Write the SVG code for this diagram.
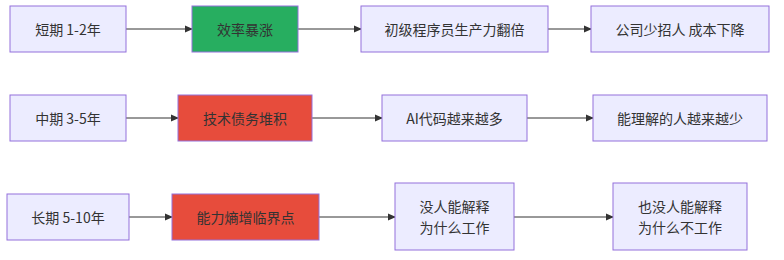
<svg xmlns="http://www.w3.org/2000/svg" width="784" height="260" viewBox="0 0 784 260">
<defs>
<marker id="arr" markerWidth="8" markerHeight="8" refX="7" refY="4" orient="auto" markerUnits="userSpaceOnUse">
<path d="M0,0.5 L8,4 L0,7.5 z" fill="#333333"/>
</marker>
<style>
.n{fill:#ECECFF;stroke:#9370DB;stroke-width:1}
.g{fill:#27AE60;stroke:#9370DB;stroke-width:1}
.r{fill:#E74C3C;stroke:#9370DB;stroke-width:1}
.t{font-family:"Noto Sans CJK SC","Liberation Sans",sans-serif;font-size:14px;fill:#333333;text-anchor:middle;dominant-baseline:central}
.e{stroke:#333333;stroke-width:1;fill:none;marker-end:url(#arr)}
</style>
</defs>
<rect width="784" height="260" fill="#ffffff"/>
<g id="connectors">
<line class="e" x1="126" y1="29" x2="192" y2="29"/>
<line class="e" x1="298" y1="29" x2="361" y2="29"/>
<line class="e" x1="548" y1="29" x2="591" y2="29"/>
<line class="e" x1="126" y1="118" x2="178" y2="118"/>
<line class="e" x1="312" y1="118" x2="382" y2="118"/>
<line class="e" x1="527" y1="118" x2="593" y2="118"/>
<line class="e" x1="129" y1="217" x2="172" y2="217"/>
<line class="e" x1="319" y1="217" x2="395" y2="217"/>
<line class="e" x1="514" y1="217" x2="613" y2="217"/>
</g>
<g id="s1"><rect class="n" x="10" y="6" width="116" height="46"/><text class="t" x="68" y="29">短期 1-2年</text></g>
<g id="s2"><rect class="g" x="192" y="6" width="106" height="46"/><text class="t" x="245" y="29">效率暴涨</text></g>
<g id="s3"><rect class="n" x="361" y="6" width="187" height="46"/><text class="t" x="454.5" y="29">初级程序员生产力翻倍</text></g>
<g id="s4"><rect class="n" x="591" y="6" width="178" height="46"/><text class="t" x="680" y="29">公司少招人 成本下降</text></g>
<g id="m1"><rect class="n" x="10" y="95" width="116" height="46"/><text class="t" x="68" y="118">中期 3-5年</text></g>
<g id="m2"><rect class="r" x="178" y="95" width="134" height="46"/><text class="t" x="245" y="118">技术债务堆积</text></g>
<g id="m3"><rect class="n" x="382" y="95" width="145" height="46"/><text class="t" x="454.5" y="118">AI代码越来越多</text></g>
<g id="m4"><rect class="n" x="593" y="95" width="174" height="46"/><text class="t" x="680" y="118">能理解的人越来越少</text></g>
<g id="l1"><rect class="n" x="7" y="194" width="122" height="46"/><text class="t" x="68" y="217">长期 5-10年</text></g>
<g id="l2"><rect class="r" x="172" y="194" width="147" height="46"/><text class="t" x="245.5" y="217">能力熵增临界点</text></g>
<g id="l3"><rect class="n" x="395" y="183" width="119" height="67"/><text class="t" x="454.5" y="206">没人能解释</text><text class="t" x="454.5" y="227">为什么工作</text></g>
<g id="l4"><rect class="n" x="613" y="183" width="134" height="67"/><text class="t" x="680" y="206">也没人能解释</text><text class="t" x="680" y="227">为什么不工作</text></g>
</svg>
